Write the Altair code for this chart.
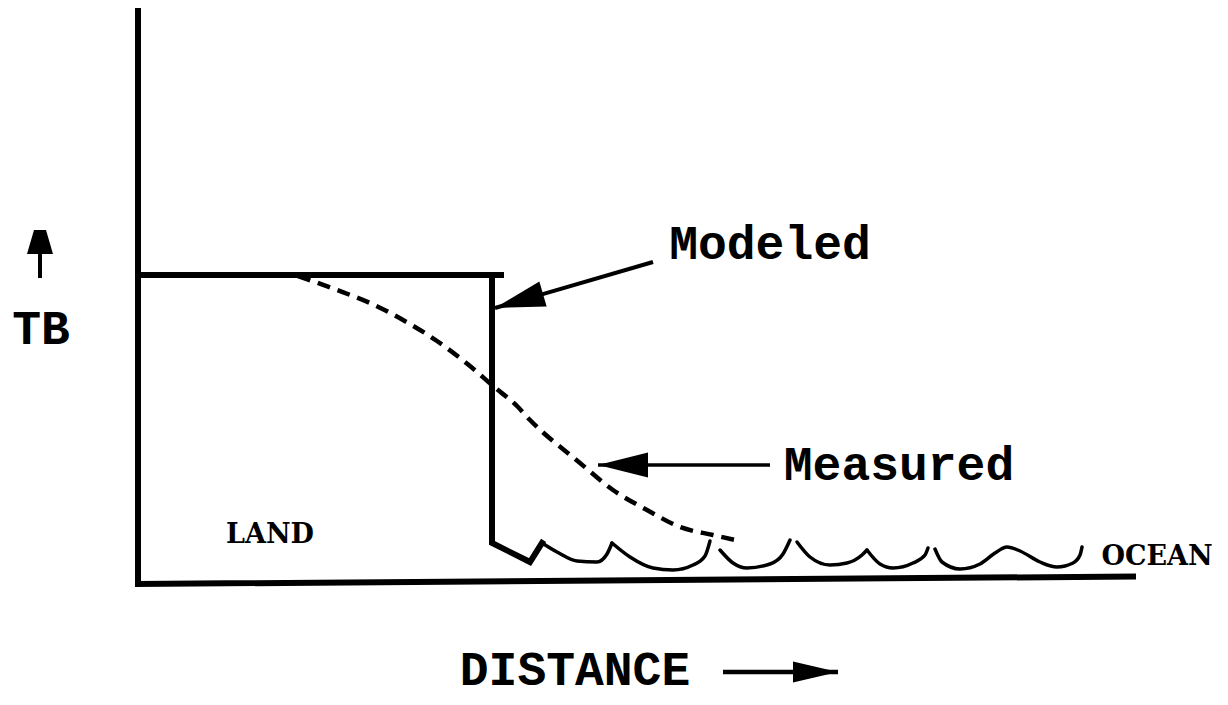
import math
import altair as alt
import pandas as pd

# ---------------- schematic data: distance (d) and brightness temperature (tb) ----------------
# axes of the diagram
yaxis_d = [0, 0]
yaxis_tb = [575, -1]
xaxis_d = [0, 995]
xaxis_tb = [-1, 6.5]

# Modeled TB: flat land plateau with a sharp drop at the coastline
modeled_top_d = [0, 363]
modeled_top_tb = [308, 308]
modeled_drop_d = [354, 354, 392, 404]
modeled_drop_tb = [308, 40, 21, 40]

# Measured TB: smooth (dashed) transition from land to ocean
measured_d = [160, 199, 232, 265, 299, 332, 355, 379, 392, 442, 475, 509, 542, 575, 597]
measured_tb = [307, 293, 280, 263, 242, 217, 197, 177, 163, 120, 93, 73, 56, 48, 43]

# ocean waves (one list per arc)
wave_d = [
    [404, 419, 439, 459, 469, 474],
    [474, 492, 515, 535, 555, 567, 572],
    [582, 595, 609, 632, 645, 652],
    [659, 672, 692, 709, 724, 729],
    [729, 742, 755, 775, 787, 790],
    [797, 804, 822, 842, 857, 869, 882, 902, 919, 935, 942, 944],
]
wave_tb = [
    [40, 31, 22, 21, 29, 40],
    [40, 26, 15, 13, 18, 27, 42],
    [33, 20, 15, 19, 29, 43],
    [41, 26, 18, 20, 28, 33],
    [33, 19, 15, 20, 28, 35],
    [34, 21, 14, 19, 30, 36, 32, 21, 16, 20, 28, 36],
]

# annotation arrows: tail and tip, head length / half width
arrow_names = ["modeled", "measured", "tb", "distance"]
arrow_tail_d = [515, 632, -98, 585]
arrow_tail_tb = [321, 118, 305, -89]
arrow_tip_d = [357, 460, -98, 700]
arrow_tip_tb = [275, 118, 353, -89]
arrow_head_len = [50, 50, 24, 45]
arrow_head_half = [13, 12.5, 13, 10.5]
arrow_head_top = [0, 0, 6, 0]
arrow_width = [4, 3.5, 4, 4.5]

# labels
mono_labels = ["Modeled", "Measured", "TB", "DISTANCE"]
mono_d = [632, 761, -97, 437]
mono_tb = [324.5, 103.5, 239.5, -101.5]
serif_labels = ["LAND", "OCEAN"]
serif_d = [132, 1019]
serif_tb = [40.5, 18.5]

# ---------------- build tables ----------------
rows = []


def add(seg, style, ds, ts, w=None):
    for i, (d, t) in enumerate(zip(ds, ts)):
        rows.append({"seg": seg, "style": style, "ord": i, "d": d, "tb": t, "w": w})


add("yaxis", "axis", yaxis_d, yaxis_tb)
add("xaxis", "axis", xaxis_d, xaxis_tb)
add("mtop", "modeled", modeled_top_d, modeled_top_tb)
add("mdrop", "modeled", modeled_drop_d, modeled_drop_tb)
add("meas", "measured", measured_d, measured_tb)
for i, (ds, ts) in enumerate(zip(wave_d, wave_tb)):
    add(f"wave{i}", "wave", ds, ts)
for n, td, tt, pd_, pt, sw in zip(arrow_names, arrow_tail_d, arrow_tail_tb, arrow_tip_d, arrow_tip_tb,
                                  arrow_width):
    add("shaft_" + n, "shaft", [td, pd_], [tt, pt], sw)
lines = pd.DataFrame(rows)

heads = []
for n, td, tt, pd_, pt, L, w, top in zip(arrow_names, arrow_tail_d, arrow_tail_tb, arrow_tip_d,
                                         arrow_tip_tb, arrow_head_len, arrow_head_half, arrow_head_top):
    # screen angle (y downwards)
    ang = math.degrees(math.atan2(-(pt - tt), pd_ - td)) % 360
    k = 2 * w / L
    k1 = 2 * top / L
    if k1 > 0:
        path = f"M1,{-k1:.3f}L1,{k1:.3f}L-1,{k:.3f}L-1,{-k:.3f}Z"
    else:
        path = f"M1,0L-1,{k:.3f}L-1,{-k:.3f}Z"
    a = math.radians(ang)
    cd = pd_ - (L / 2) * math.cos(a)
    ct = pt + (L / 2) * math.sin(a)
    heads.append({"d": cd, "tb": ct, "angle": ang, "size": L * L, "shape": path})
heads = pd.DataFrame(heads)

mono = pd.DataFrame({"label": mono_labels, "d": mono_d, "tb": mono_tb})
serif = pd.DataFrame({"label": serif_labels, "d": serif_d, "tb": serif_tb})

X = alt.X("d:Q", scale=alt.Scale(domain=[-130, 1082], nice=False, zero=False), axis=None)
Y = alt.Y("tb:Q", scale=alt.Scale(domain=[-114, 575], nice=False, zero=False), axis=None)

base = alt.Chart(lines)


def line_layer(style, **kw):
    return base.transform_filter(alt.datum.style == style).mark_line(color="black", **kw).encode(
        x=X, y=Y, detail="seg:N", order="ord:Q")


axes = line_layer("axis", strokeWidth=6, strokeCap="square")
modeled = line_layer("modeled", strokeWidth=6, strokeCap="square")
waves = line_layer("wave", strokeWidth=3.5, interpolate="monotone", strokeCap="round")
measured = line_layer("measured", strokeWidth=4.5, interpolate="monotone", strokeDash=[13, 8])
shafts = base.transform_filter(alt.datum.style == "shaft").mark_line(color="black").encode(
    x=X, y=Y, detail="seg:N", order="ord:Q", strokeWidth=alt.StrokeWidth("w:Q", scale=None))

head_layer = alt.Chart(heads).mark_point(filled=True, color="black", opacity=1, strokeWidth=0).encode(
    x=X, y=Y,
    shape=alt.Shape("shape:N", scale=None),
    size=alt.Size("size:Q", scale=None),
    angle=alt.Angle("angle:Q", scale=None),
)

mono_layer = alt.Chart(mono).mark_text(font="Liberation Mono", fontWeight="bold", fontSize=48,
                                       align="center", baseline="alphabetic", color="black").encode(
    x=X, y=Y, text="label:N")
serif_layer = alt.Chart(serif).mark_text(font="DejaVu Serif", fontWeight="bold", fontSize=27,
                                         align="center", baseline="alphabetic", color="black").encode(
    x=X, y=Y, text="label:N")

chart = alt.layer(axes, modeled, waves, measured, shafts, head_layer, mono_layer, serif_layer).properties(
    width=1212, height=689, padding=0, autosize="none", background="white"
).configure_view(stroke=None)

chart.save("out.html", embed_options={"renderer": "svg", "actions": False})
